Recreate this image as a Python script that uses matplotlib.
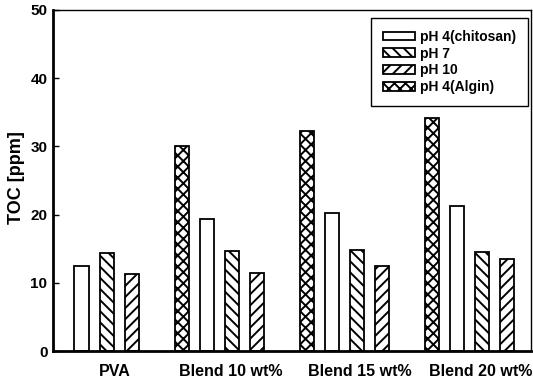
import matplotlib
matplotlib.use("Agg")
import matplotlib.pyplot as plt
import numpy as np

plt.rcParams['font.family'] = ['Liberation Sans', 'DejaVu Sans']
plt.rcParams['hatch.linewidth'] = 1.4

groups = ["PVA", "Blend 10 wt%", "Blend 15 wt%", "Blend 20 wt%"]
series = ["pH 4(chitosan)", "pH 7", "pH 10", "pH 4(Algin)"]
chitosan = [12.4, 19.3, 20.3, 21.3]
ph7 = [14.3, 14.7, 14.8, 14.5]
ph10 = [11.3, 11.5, 12.5, 13.5]
algin = [np.nan, 30.1, 32.3, 34.2]

label_pos = [0.16, 1.09, 2.12, 3.09]

fig = plt.figure(figsize=(5.33, 3.80), dpi=100)
ax = fig.add_axes([0.0994, 0.0763, 0.8966, 0.8974])

x = np.arange(len(groups))
w = 0.116
step = 0.2
# slot order within a group: Algin, chitosan, pH 7, pH 10
b_ch = ax.bar(x - 0.5 * step, chitosan, w, facecolor='white', edgecolor='black', linewidth=1.3, label=series[0])
b_7 = ax.bar(x + 0.5 * step, ph7, w, facecolor='white', edgecolor='black', linewidth=1.3, hatch='\\\\\\', label=series[1])
b_10 = ax.bar(x + 1.5 * step, ph10, w, facecolor='white', edgecolor='black', linewidth=1.3, hatch='///', label=series[2])
b_al = ax.bar(x - 1.5 * step, algin, w, facecolor='white', edgecolor='black', linewidth=1.3, hatch='xxx', label=series[3])

ax.set_xlim(-0.33, 3.49)
ax.set_ylim(0, 50)
ax.set_yticks([0, 10, 20, 30, 40, 50])
ax.set_xticks(label_pos)
ax.set_xticklabels(groups, fontsize=11.5, fontweight='bold')
ax.tick_params(axis='x', length=0, pad=9)
ax.tick_params(axis='y', direction='in', length=4, width=1, pad=4, labelsize=11)
for lab in ax.get_yticklabels():
    lab.set_fontweight('bold')
ax.set_ylabel("TOC [ppm]", fontsize=13, fontweight='bold')
ax.yaxis.set_label_coords(-0.058, 0.509)

ax.spines['left'].set_linewidth(2)
ax.spines['bottom'].set_linewidth(2)
ax.spines['top'].set_linewidth(1)
ax.spines['right'].set_linewidth(1)

leg = ax.legend(handles=[b_ch, b_7, b_10, b_al], loc='upper right',
                bbox_to_anchor=(0.9937, 0.9765), fancybox=False, framealpha=1,
                edgecolor='black', handlelength=2.3, handleheight=0.6,
                labelspacing=0.2, handletextpad=0.35, borderpad=0.85,
                borderaxespad=0,
                prop={'size': 10, 'weight': 'bold'})
leg.get_frame().set_linewidth(1)

fig.savefig("out.png", dpi=100)
